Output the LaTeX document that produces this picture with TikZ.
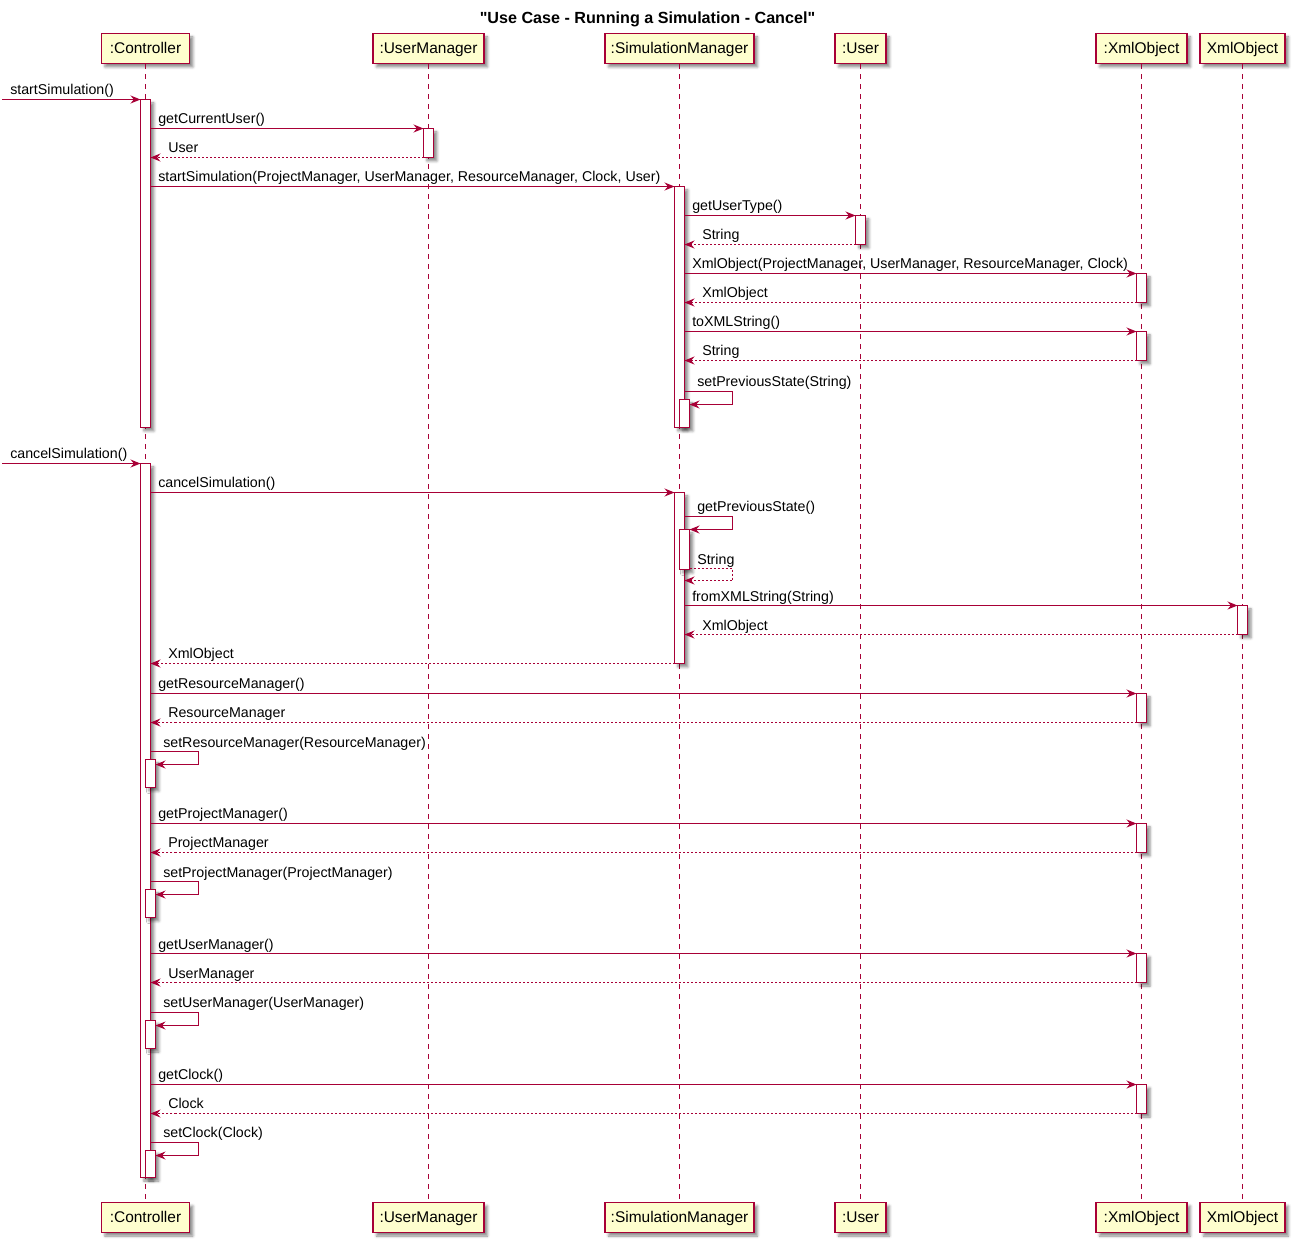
\documentclass[tikz,border=0pt]{standalone}
\usepackage{fontspec}
\setmainfont{Liberation Sans}[Ligatures=TeXOff]
\usetikzlibrary{arrows.meta,shadows.blur}
\definecolor{pline}{HTML}{A80036}
\definecolor{pfill}{HTML}{FEFECE}
\newcommand\actbar[4]{\node[actbox, minimum height={(#4-#3)*0.75pt}] (#1) at (#2,{(#3+#4)/2}) {};}
\newcommand\callmsg[3]{\draw[msg] (#1.east |- 0,#3) -- (#2.west |- 0,#3);}
\newcommand\retmsg[3]{\draw[ret] (#1.west |- 0,#3) -- (#2.east |- 0,#3);}
\begin{document}
\begin{tikzpicture}[x=0.75pt, y=-0.75pt,
  shad/.style={blur shadow={shadow xshift=2.6pt, shadow yshift=-2.6pt, shadow blur radius=2pt, shadow opacity=45}},
  part/.style={draw=pline, fill=pfill, line width=1.1pt, minimum height=22.5pt, inner sep=0pt,
    text height=8.2pt, text depth=0pt, font=\fontsize{11.6}{13}\selectfont, shad},
  actbox/.style={draw=pline, fill=white, line width=0.8pt, minimum width=7.5pt, inner sep=0pt, outer sep=0pt, shad},
  life/.style={draw=pline, line width=0.8pt, dash pattern=on 3.75pt off 3.75pt},
  msg/.style={draw=pline, line width=0.8pt, -{Stealth[length=7.5pt,width=6pt,inset=2.5pt]}},
  ret/.style={msg, dash pattern=on 1.5pt off 1.5pt},
  lab/.style={anchor=base west, inner sep=0pt, font=\fontsize{10.67}{12}\selectfont}]
\useasboundingbox (0,0) rectangle (1294,1243);
\begin{scope}[yshift=-0.375pt]
% title
\node[anchor=base, inner sep=0pt, font=\fontsize{12.1}{14}\bfseries\selectfont] (title) at (647.5,23.3) {"Use Case - Running a Simulation - Cancel"};

% participants (top)
\node[part, minimum width={88*0.75pt}]  (pC)  at (145.5,48) {:Controller};
\node[part, minimum width={111*0.75pt}] (pUM) at (428.5,48) {:UserManager};
\node[part, minimum width={149*0.75pt}] (pSM) at (679.5,48)   {:SimulationManager};
\node[part, minimum width={51*0.75pt}]  (pU)  at (860.5,48)   {:User};
\node[part, minimum width={91*0.75pt}]  (pX)  at (1141.5,48)  {:XmlObject};
\node[part, minimum width={85*0.75pt}]  (pY)  at (1242.5,48) {XmlObject};
% participants (bottom)
\node[part, minimum width={88*0.75pt}]  (bC)  at (145.5,1217) {:Controller};
\node[part, minimum width={111*0.75pt}] (bUM) at (428.5,1217) {:UserManager};
\node[part, minimum width={149*0.75pt}] (bSM) at (679.5,1217)   {:SimulationManager};
\node[part, minimum width={51*0.75pt}]  (bU)  at (860.5,1217)   {:User};
\node[part, minimum width={91*0.75pt}]  (bX)  at (1141.5,1217)  {:XmlObject};
\node[part, minimum width={85*0.75pt}]  (bY)  at (1242.5,1217) {XmlObject};

% lifelines
\draw[life] (pC.south) -- (bC.north);
\draw[life] (pUM.south) -- (bUM.north);
\draw[life] (pSM.south) -- (bSM.north);
\draw[life] (pU.south) -- (bU.north);
\draw[life] (pX.south) -- (bX.north);
\draw[life] (pY.south) -- (bY.north);

% activations
\actbar{C1}{145.5}{99}{427}
\actbar{UM1}{428.5}{128}{157}
\actbar{S1}{679.5}{186}{427}
\actbar{U1}{860.5}{215}{244}
\actbar{X1}{1141.5}{273}{302}
\actbar{X2}{1141.5}{331}{360}
\actbar{S1n}{684.5}{399}{427}
\actbar{C2}{145.5}{463}{1177}
\actbar{S2}{679.5}{492}{663}
\actbar{S2n}{684.5}{529}{569}
\actbar{Y1}{1242.5}{605}{634}
\actbar{X3}{1141.5}{693}{722}
\actbar{C2a}{150.5}{759}{787}
\actbar{X4}{1141.5}{823}{852}
\actbar{C2b}{150.5}{889}{917}
\actbar{X5}{1141.5}{953}{982}
\actbar{C2c}{150.5}{1020}{1048}
\actbar{X6}{1141.5}{1084}{1113}
\actbar{C2d}{150.5}{1150}{1177}

% first part
\coordinate (f1) at (2,99);
\draw[msg] (f1) -- (C1.west |- f1);
\node[lab] (l1) at (10,94) {startSimulation()};
\callmsg{C1}{UM1}{128}
\node[lab] (l2) at (158,123) {getCurrentUser()};
\retmsg{UM1}{C1}{157}
\node[lab] (l3) at (168,152) {User};
\callmsg{C1}{S1}{186}
\node[lab] (l4) at (158,181) {startSimulation(ProjectManager, UserManager, ResourceManager, Clock, User)};
\callmsg{S1}{U1}{215}
\node[lab] (l5) at (692,210) {getUserType()};
\retmsg{U1}{S1}{244}
\node[lab] (l6) at (702,239) {String};
\callmsg{S1}{X1}{273}
\node[lab] (l7) at (692,268) {XmlObject(ProjectManager, UserManager, ResourceManager, Clock)};
\retmsg{X1}{S1}{302}
\node[lab] (l8) at (702,297) {XmlObject};
\callmsg{S1}{X2}{331}
\node[lab] (l9) at (692,326) {toXMLString()};
\retmsg{X2}{S1}{360}
\node[lab] (l10) at (702,355) {String};
\draw[msg] (S1.east |- 0,391) -- (732.5,391) -- (732.5,404) -- (S1n.east |- 0,404);
\node[lab] (l11) at (697,386) {setPreviousState(String)};

% second part
\coordinate (f2) at (2,463);
\draw[msg] (f2) -- (C2.west |- f2);
\node[lab] (l12) at (10,458) {cancelSimulation()};
\callmsg{C2}{S2}{492}
\node[lab] (l13) at (158,487) {cancelSimulation()};
\draw[msg] (S2.east |- 0,516) -- (732.5,516) -- (732.5,529) -- (S2n.east |- 0,529);
\node[lab] (l14) at (697,511) {getPreviousState()};
\draw[ret] (S2n.east |- 0,568) -- (732.5,568) -- (732.5,580) -- (S2.east |- 0,580);
\node[lab] (l15) at (697,564) {String};
\callmsg{S2}{Y1}{605}
\node[lab] (l16) at (692,600.5) {fromXMLString(String)};
\retmsg{Y1}{S2}{634}
\node[lab] (l17) at (702,629.5) {XmlObject};
\retmsg{S2}{C2}{663}
\node[lab] (l18) at (168,658) {XmlObject};
\callmsg{C2}{X3}{693}
\node[lab] (l19) at (158,688) {getResourceManager()};
\retmsg{X3}{C2}{722}
\node[lab] (l20) at (168,717) {ResourceManager};
\draw[msg] (C2.east |- 0,751) -- (198.5,751) -- (198.5,764) -- (C2a.east |- 0,764);
\node[lab] (l21) at (163,746.5) {setResourceManager(ResourceManager)};
\callmsg{C2}{X4}{823}
\node[lab] (l22) at (158,818.3) {getProjectManager()};
\retmsg{X4}{C2}{852}
\node[lab] (l23) at (168,847.3) {ProjectManager};
\draw[msg] (C2.east |- 0,881) -- (198.5,881) -- (198.5,894) -- (C2b.east |- 0,894);
\node[lab] (l24) at (163,876.5) {setProjectManager(ProjectManager)};
\callmsg{C2}{X5}{953}
\node[lab] (l25) at (158,948.5) {getUserManager()};
\retmsg{X5}{C2}{982}
\node[lab] (l26) at (168,977.5) {UserManager};
\draw[msg] (C2.east |- 0,1012) -- (198.5,1012) -- (198.5,1025) -- (C2c.east |- 0,1025);
\node[lab] (l27) at (163,1007.3) {setUserManager(UserManager)};
\callmsg{C2}{X6}{1084}
\node[lab] (l28) at (158,1079.3) {getClock()};
\retmsg{X6}{C2}{1113}
\node[lab] (l29) at (168,1108.3) {Clock};
\draw[msg] (C2.east |- 0,1142) -- (198.5,1142) -- (198.5,1155) -- (C2d.east |- 0,1155);
\node[lab] (l30) at (163,1137) {setClock(Clock)};
\end{scope}
\end{tikzpicture}
\end{document}
